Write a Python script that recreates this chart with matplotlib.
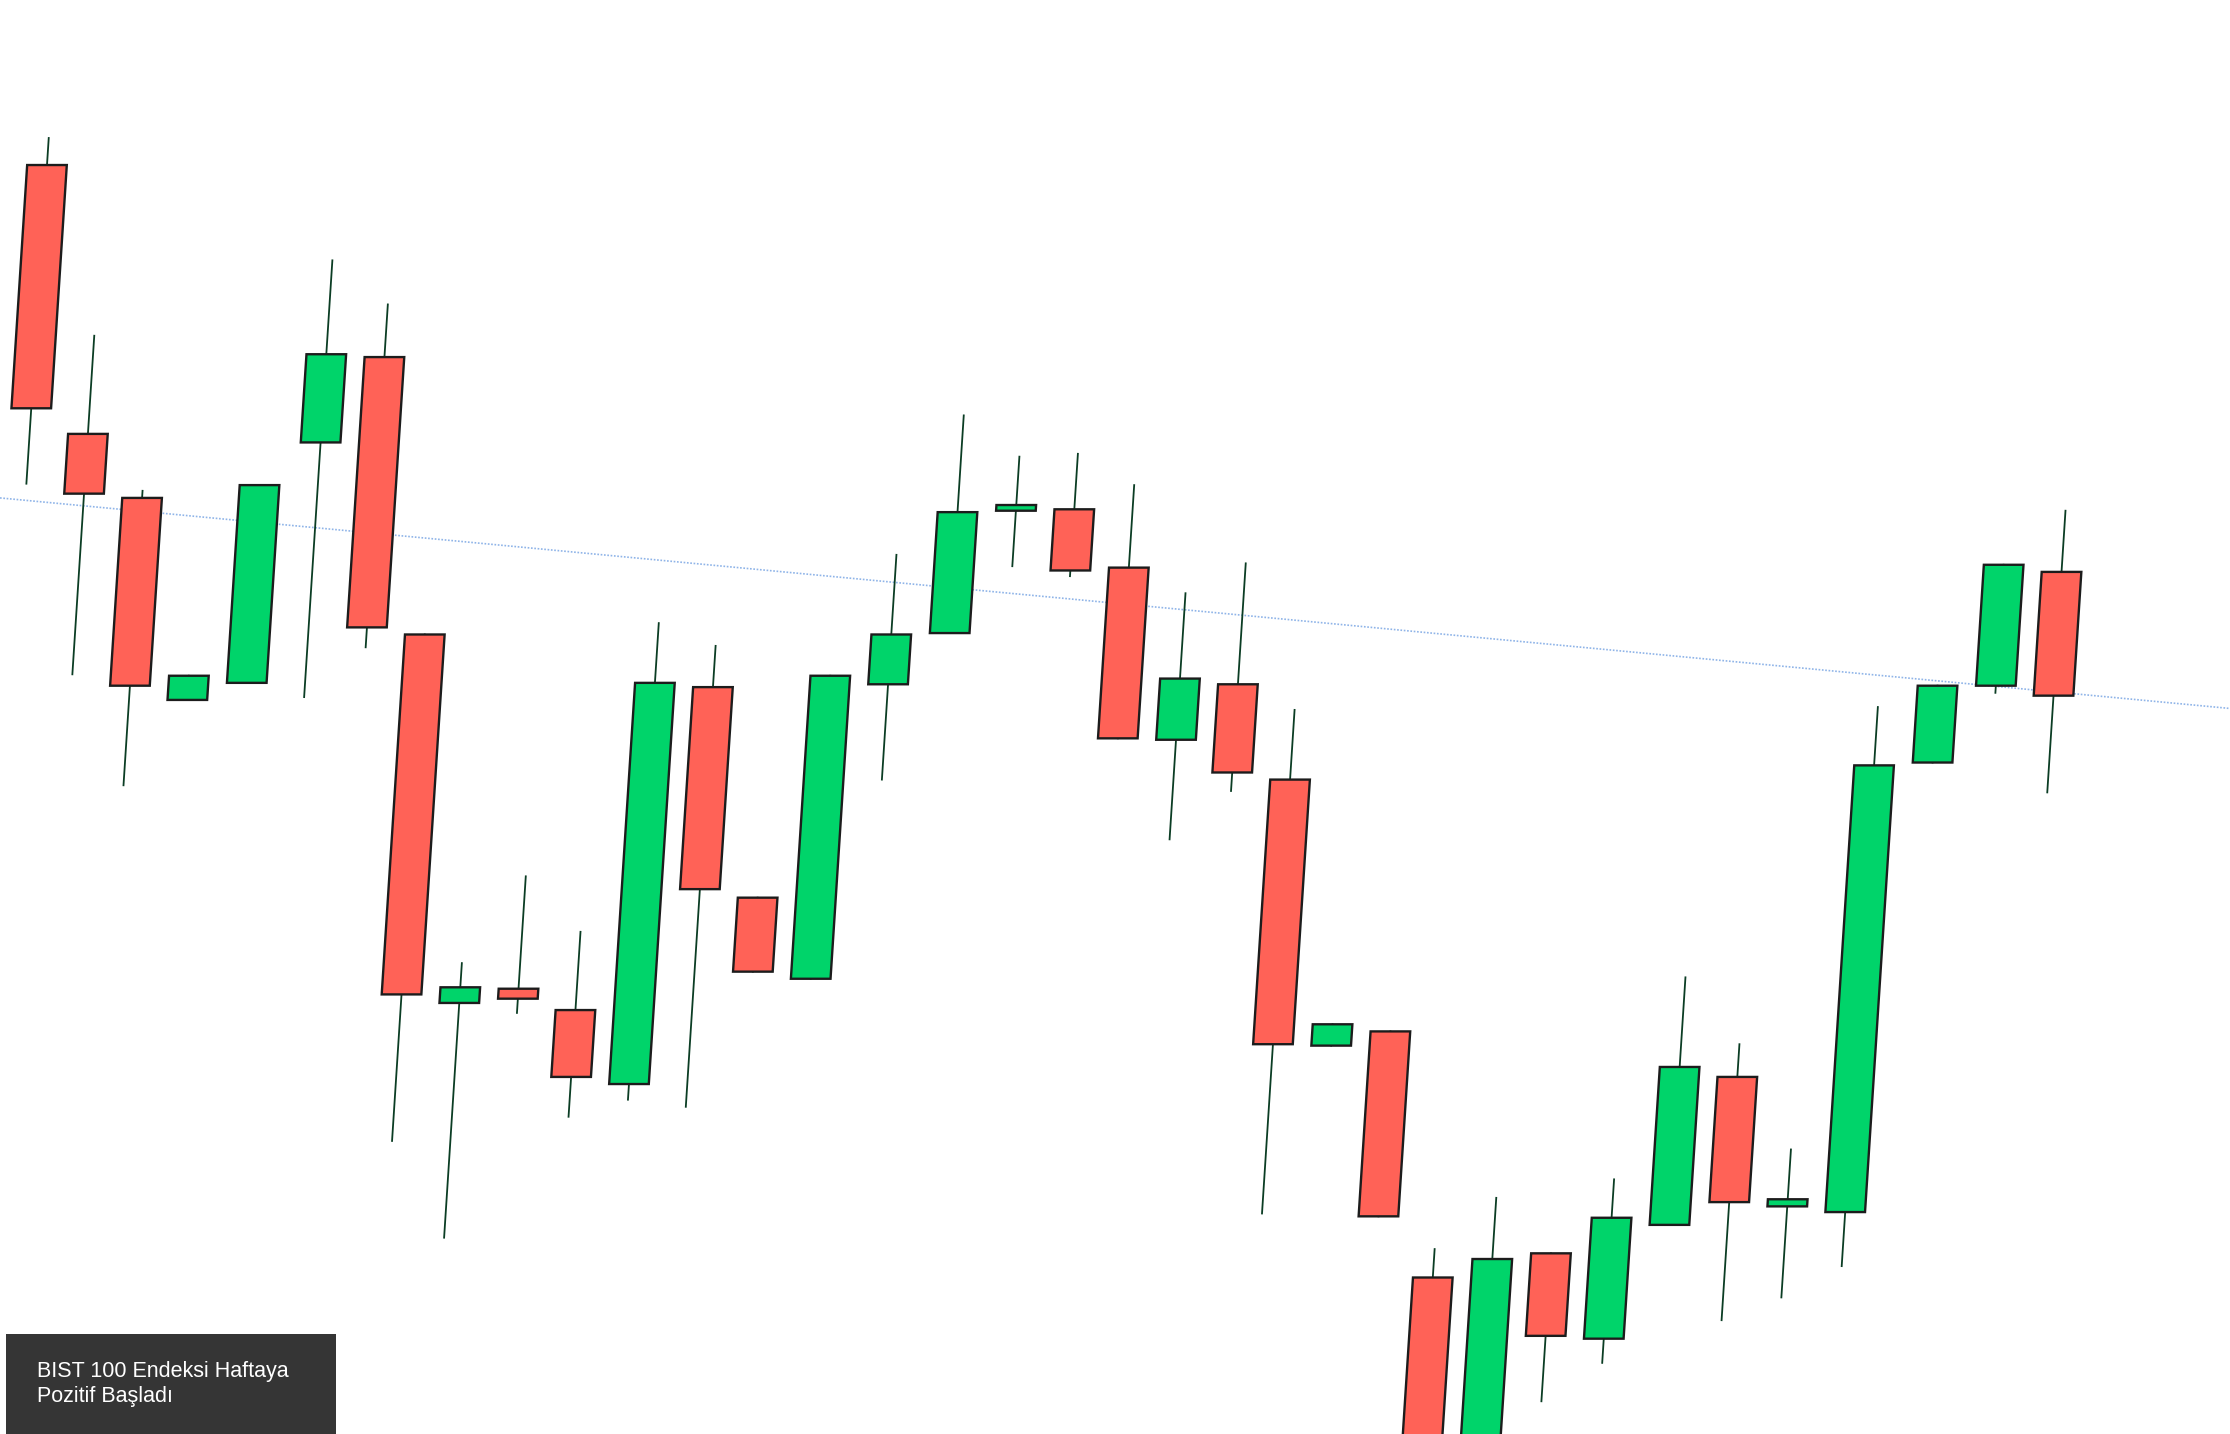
import matplotlib
matplotlib.use('Agg')
import matplotlib.pyplot as plt
from matplotlib.patches import Rectangle
from matplotlib.transforms import Affine2D

# ===== DATA (price levels, arbitrary units) =====
opens  = [892, 703, 658, 516, 528, 697, 757, 562, 303, 313, 298, 246, 525, 377, 320, 527, 563, 649,
          650, 609, 488, 527, 460, 273, 283, 110, -30, 127, 67, 147, 251, 160, 156, 472, 526, 606]
closes = [721, 661, 526, 533, 667, 759, 567, 309, 314, 306, 251, 528, 383, 325, 533, 562, 648, 652,
          607, 489, 531, 465, 274, 288, 153, -30, 123, 69, 152, 258, 163, 165, 470, 526, 611, 519]
highs  = [911, 772, 663, 533, 667, 825, 794, 562, 331, 392, 353, 570, 554, 377, 533, 618, 716, 687,
          689, 667, 591, 612, 509, 288, 283, 130, 166, 127, 179, 321, 274, 200, 511, 526, 611, 649]
lows   = [668, 534, 456, 516, 528, 518, 553, 206, 138, 296, 223, 235, 230, 325, 320, 460, 563, 610,
          603, 489, 418, 452, 155, 273, 153, -40, -40, 23, 50, 147, 80, 96, 118, 472, 521, 451]
trend_start, trend_end = 658, 510   # dotted reference line, left/right edge

GREEN = '#00d46a'
RED = '#ff6257'

fig = plt.figure(figsize=(22.3, 14.34), dpi=100)
ax = fig.add_axes([0, 0, 1, 1])
n = len(opens)
x0 = -0.2
ax.set_xlim(x0, x0 + 1568 / 41.0)
ax.set_ylim(0, 1008)
ax.axis('off')

fig.canvas.draw()
scale = 1434 / 1008
yref = (1008 - 500) * scale
tr = Affine2D().translate(0, -yref).skew_deg(3.7, 0).translate(0, yref)
tdata = ax.transData + tr

w = 0.68
for i in range(n):
    o, c, h, l = opens[i], closes[i], highs[i], lows[i]
    col = GREEN if c >= o else RED
    ax.plot([i, i], [l, h], color='#0b3d24', lw=1.3, transform=tdata, zorder=2)
    lo, hi = min(o, c), max(o, c)
    ax.add_patch(Rectangle((i - w / 2, lo), w, max(hi - lo, 4), facecolor=col,
                           edgecolor='#1c1c1c', lw=1.7, transform=tdata, zorder=3))

ax.plot([0, 1], [trend_start / 1008, trend_end / 1008], transform=ax.transAxes,
        color='#8fb4e8', lw=1.2, ls=(0, (1, 1)), zorder=1)

fig.patches.append(Rectangle((4 / 1568, 0), 232 / 1568, 70 / 1008, transform=fig.transFigure,
                             facecolor='#353535', edgecolor='none', zorder=5))
fig.text(26 / 1568, 35 / 1008, 'BIST 100 Endeksi Haftaya\nPozitif Başladı', color='white',
         fontsize=15.5, family='Liberation Sans', va='center', ha='left', linespacing=1.25, zorder=6)

fig.savefig('out.png', dpi=100)
